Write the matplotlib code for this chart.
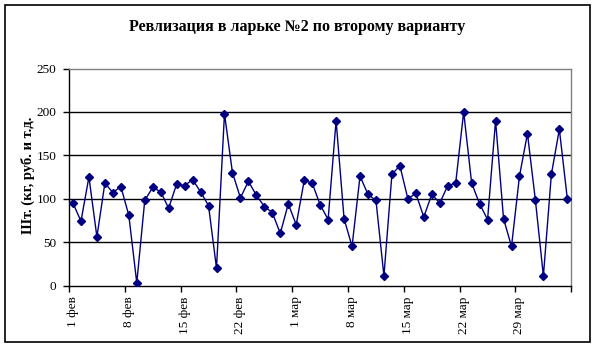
import numpy as np
import matplotlib.pyplot as plt
from matplotlib.patches import Rectangle

# daily figures, 1 Feb .. 4 Apr
values = [95, 74, 125, 56, 118, 107, 114, 81, 3, 98,
          113, 108, 89, 117, 115, 122, 108, 92, 20, 198,
          130, 101, 120, 104, 91, 84, 60, 94, 70, 121,
          118, 93, 76, 190, 77, 45, 126, 105, 98, 11,
          128, 138, 100, 106, 79, 105, 95, 115, 118, 200,
          118, 94, 76, 190, 77, 45, 126, 175, 98, 11,
          128, 180, 100]
tick_labels = ["1 фев", "8 фев", "15 фев", "22 фев", "1 мар",
               "8 мар", "15 мар", "22 мар", "29 мар"]
y_ticks = [0, 50, 100, 150, 200, 250]

plt.rcParams['font.family'] = ['Liberation Serif', 'DejaVu Serif']

fig = plt.figure(figsize=(5.96, 3.5), dpi=100)
ax = fig.add_axes([69 / 596, 1 - 285.5 / 350, (571.3 - 69) / 596, (285.5 - 68.5) / 350])

x = np.arange(len(values))
ax.plot(x, values, color='#000080', lw=1.0, marker='D', markersize=3.6,
        markerfacecolor='#000080', markeredgecolor='#000080', zorder=3)

# horizontal grid
for v in y_ticks[1:-1]:
    ax.axhline(v, color='black', lw=1.0, zorder=1)

ax.set_xlim(-0.5, len(values) - 0.5)
ax.set_ylim(0, 250)
ax.set_yticks(y_ticks)
ax.tick_params(axis='y', labelsize=9.5, length=4, width=1, pad=5, direction='out')

# labels sit on the weekly days, tick marks between the days
ax.set_xticks(np.arange(len(tick_labels)) * 7)
ax.set_xticklabels(tick_labels, rotation=90, fontsize=9.5)
ax.set_xticks(np.arange(0, len(values) + 1, 7) - 0.5, minor=True)
ax.tick_params(axis='x', which='major', length=0, pad=8)
ax.tick_params(axis='x', which='minor', length=4, width=1, direction='out')

for s in ['left', 'bottom']:
    ax.spines[s].set_color('black')
    ax.spines[s].set_linewidth(1.0)
for s in ['top', 'right']:
    ax.spines[s].set_color('#808080')
    ax.spines[s].set_linewidth(1.0)

fig.text(28 / 596, 1 - 175 / 350, "Шт. (кг, руб. и т.д.", rotation=90,
         ha='center', va='center', fontsize=10.5, fontweight='bold')
fig.text(297 / 596, 1 - 27 / 350, "Ревлизация в ларьке №2 по второму варианту",
         ha='center', va='center', fontsize=11.5, fontweight='bold')

# outer chart frame
fig.patches.append(Rectangle((5 / 596, 8 / 350), 585 / 596, 337 / 350,
                             transform=fig.transFigure, fill=False,
                             edgecolor='black', lw=1.2))

fig.savefig("out.png", dpi=100)
